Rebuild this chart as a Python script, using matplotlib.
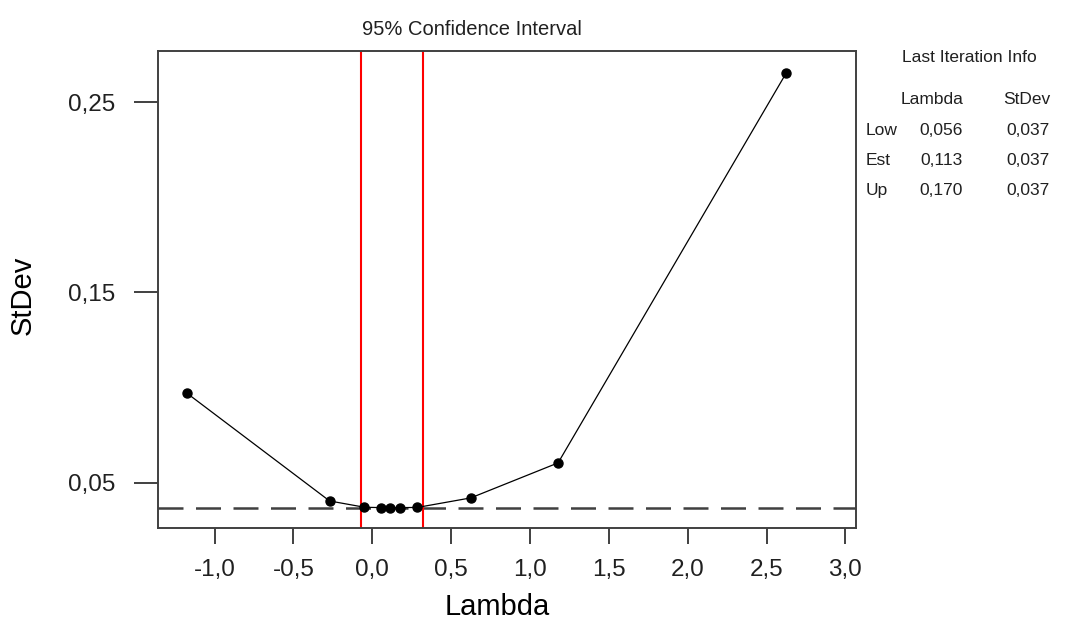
"""Box-Cox lambda search plot."""

import matplotlib

matplotlib.use('Agg')
import matplotlib.pyplot as plt
from matplotlib.ticker import FuncFormatter

# iteration points
lambdas = [-1.174, -0.271, -0.050, 0.058, 0.111, 0.178, 0.286, 0.624, 1.178, 2.625]
stdevs = [0.0970, 0.0405, 0.0372, 0.0370, 0.0370, 0.0370, 0.0371, 0.0421, 0.0605, 0.2653]
ci_bounds = [-0.073, 0.321]
ci_level = 0.037

info_rows = ['Low', 'Est', 'Up']
info_lambda = ['0,056', '0,113', '0,170']
info_stdev = ['0,037', '0,037', '0,037']

x_ticks = [-1.0, -0.5, 0.0, 0.5, 1.0, 1.5, 2.0, 2.5, 3.0]
y_ticks = [0.05, 0.15, 0.25]

W, H = 1075, 631
SPINE = '#404040'
TEXT = '#202020'
INFO_SIZE = 12.5

plt.rcParams['font.family'] = ['Liberation Sans', 'DejaVu Sans']


def fx(px):
    return px / W


def fy(py):
    return 1 - py / H


def comma(fmt):
    return FuncFormatter(lambda v, _pos: format(v, fmt).replace('.', ','))


fig = plt.figure(figsize=(W / 100, H / 100), dpi=100)
ax = fig.add_axes([fx(158), fy(528), fx(856 - 158), (528 - 51) / H])

ax.plot(lambdas, stdevs, color='black', linewidth=0.9, marker='o', markersize=6.5, zorder=3)
for b in ci_bounds:
    ax.axvline(b, color='red', linewidth=1.5, zorder=2)
ax.axhline(ci_level, color=SPINE, linewidth=1.8, dashes=(10, 5), zorder=1)

ax.set_xlim(-1.359, 3.067)
ax.set_ylim(0.0263, 0.2768)
ax.set_xticks(x_ticks)
ax.set_yticks(y_ticks)
ax.xaxis.set_major_formatter(comma('.1f'))
ax.yaxis.set_major_formatter(comma('.2f'))

for side in ax.spines.values():
    side.set_color(SPINE)
    side.set_linewidth(1.4)
ax.tick_params(axis='x', direction='out', length=11.5, width=1.4, color=SPINE,
               labelsize=17.5, labelcolor=TEXT, pad=10.5)
ax.tick_params(axis='y', direction='out', length=17, width=1.4, color=SPINE,
               labelsize=17.5, labelcolor=TEXT, pad=14)

fig.text(fx(472), fy(29.5), '95% Confidence Interval', ha='center', va='center',
         fontsize=14.5, color=TEXT)
fig.text(fx(497), fy(607), 'Lambda', ha='center', va='center', fontsize=21)
fig.text(fx(23), fy(295), 'StDev', ha='center', va='center', rotation=90, fontsize=21)

# last iteration info block
fig.text(fx(969), fy(58), 'Last Iteration Info', ha='center', va='center',
         fontsize=INFO_SIZE, color=TEXT)
fig.text(fx(963), fy(100), 'Lambda', ha='right', va='center', fontsize=INFO_SIZE, color=TEXT)
fig.text(fx(1050), fy(100), 'StDev', ha='right', va='center', fontsize=INFO_SIZE, color=TEXT)
for i, (row, lam, sd) in enumerate(zip(info_rows, info_lambda, info_stdev)):
    y = fy(130.5 + 30 * i)
    fig.text(fx(866), y, row, ha='left', va='center', fontsize=INFO_SIZE, color=TEXT)
    fig.text(fx(963), y, lam, ha='right', va='center', fontsize=INFO_SIZE, color=TEXT)
    fig.text(fx(1050), y, sd, ha='right', va='center', fontsize=INFO_SIZE, color=TEXT)

fig.savefig('out.png', dpi=100)
